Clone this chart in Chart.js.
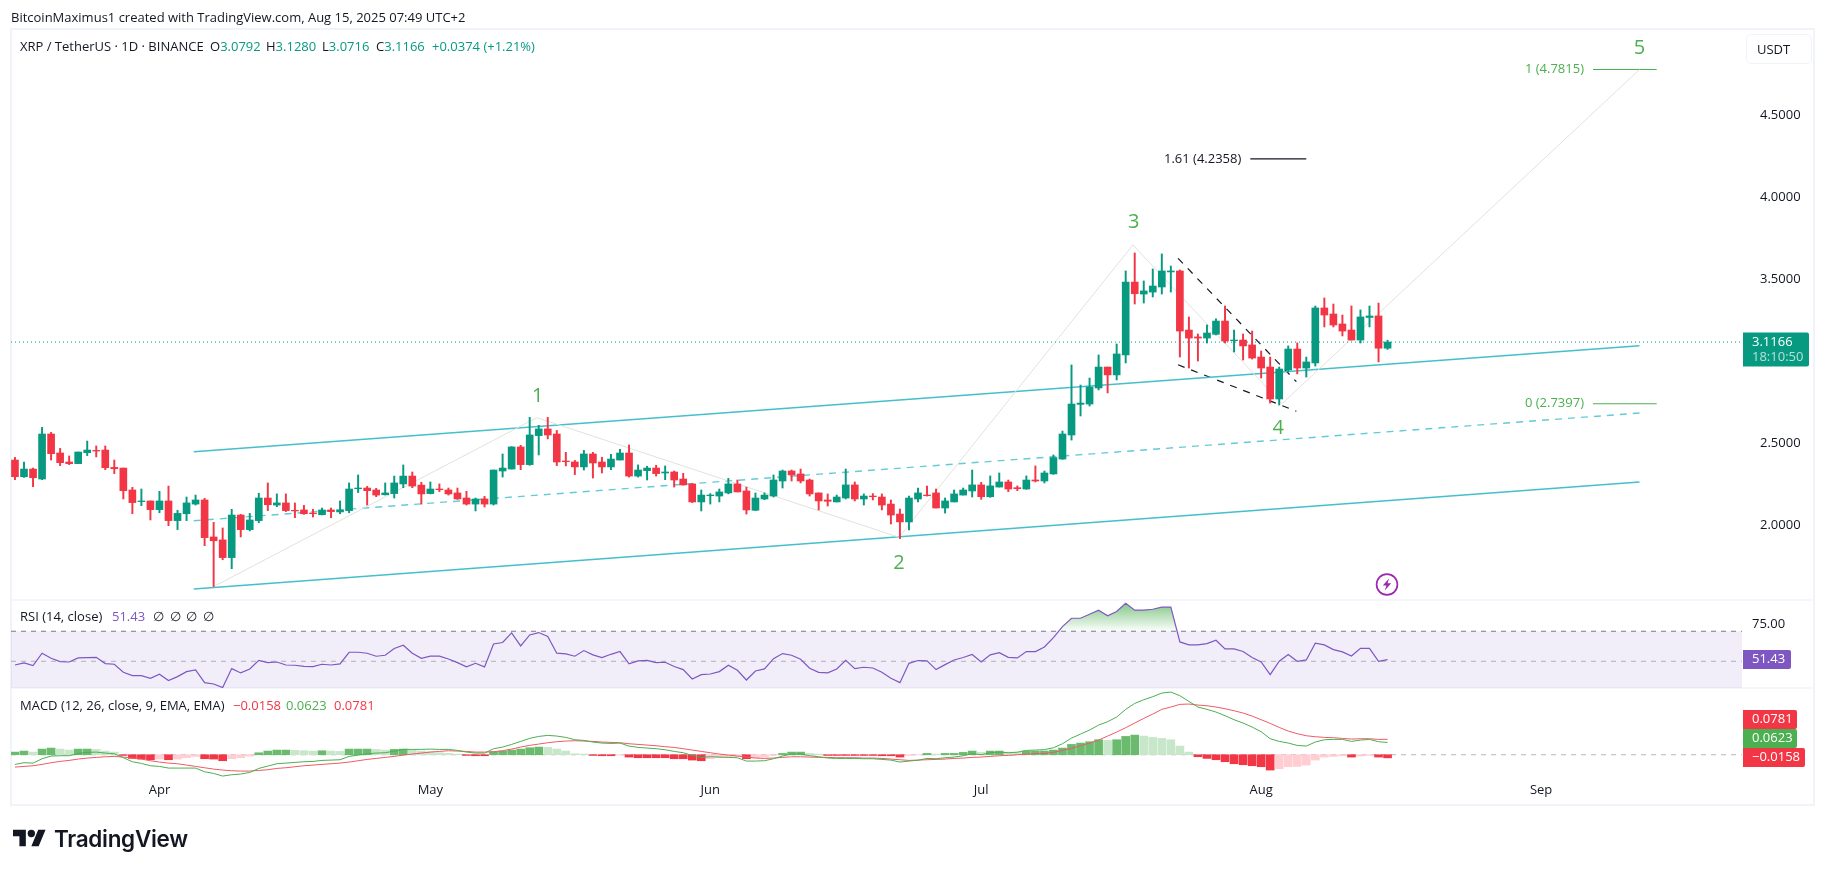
<!DOCTYPE html>
<html>
<head>
<meta charset="utf-8">
<title>XRP / TetherUS</title>
<script src="https://cdn.jsdelivr.net/npm/chart.js@4"></script>
<style>
  html, body { margin: 0; padding: 0; background: #fff; }
  body { width: 1825px; height: 872px; position: relative; overflow: hidden; font-family: "Open Sans", sans-serif; color: #131722; }
  canvas { position: absolute; left: 0; top: 0; }
  .txt { position: absolute; font-size: 13px; line-height: 18px; white-space: nowrap; }
  .up { color: #089981; }
  .rsi { color: #7e57c2; }
  .red { color: #f23645; }
  .grn { color: #4caf50; }
  #unit { position: absolute; left: 1746px; top: 34px; width: 64px; height: 28px; border: 1px solid #f0f3fa; border-radius: 5px; box-sizing: content-box; }
  #brand { position: absolute; left: 54px; top: 822px; font-family: Inter, sans-serif; font-weight: 600; font-size: 22.5px; line-height: 34px; letter-spacing: -0.3px; color: #131722; }
</style>
</head>
<body>
<canvas id="chart" width="1825" height="872"></canvas>

<div class="txt" style="left:11px;top:8px">BitcoinMaximus1 created with TradingView.com, Aug 15, 2025 07:49 UTC+2</div>

<div class="txt" style="left:20px;top:37px">XRP / TetherUS · 1D · BINANCE</div>
<div class="txt" style="left:210px;top:37px">O<span class="up">3.0792</span></div>
<div class="txt" style="left:266px;top:37px">H<span class="up">3.1280</span></div>
<div class="txt" style="left:322px;top:37px">L<span class="up">3.0716</span></div>
<div class="txt" style="left:376px;top:37px">C<span class="up">3.1166</span></div>
<div class="txt up" style="left:432px;top:37px">+0.0374 (+1.21%)</div>

<div class="txt" style="left:20px;top:607px">RSI (14, close)</div>
<div class="txt rsi" style="left:112px;top:607px">51.43</div>
<div class="txt" style="left:153px;top:607px">∅</div>
<div class="txt" style="left:170px;top:607px">∅</div>
<div class="txt" style="left:186px;top:607px">∅</div>
<div class="txt" style="left:203px;top:607px">∅</div>

<div class="txt" style="left:20px;top:696px">MACD (12, 26, close, 9, EMA, EMA)</div>
<div class="txt red" style="left:233px;top:696px">−0.0158</div>
<div class="txt grn" style="left:286px;top:696px">0.0623</div>
<div class="txt red" style="left:334px;top:696px">0.0781</div>

<div id="unit"></div>
<div class="txt" style="left:1757px;top:40px">USDT</div>

<!-- alert marker on the price pane -->
<svg style="position:absolute;left:1374px;top:572px" width="26" height="26" viewBox="0 0 26 26">
  <circle cx="13" cy="12.5" r="10.4" fill="#fff" stroke="#9c27b0" stroke-width="1.7"/>
  <path d="M15 6.5 L8.8 13.6 H12.4 L10.8 18.5 L17.2 11.3 H13.6 Z" fill="#9c27b0"/>
</svg>

<!-- brand mark -->
<svg style="position:absolute;left:13px;top:826px" width="33" height="26" viewBox="0 0 36 28">
  <path d="M14 22H7V11H0V4h14v18zM28 22h-8l7.5-18h8L28 22z" fill="#131722"/>
  <circle cx="20" cy="8" r="4" fill="#131722"/>
</svg>
<div id="brand">TradingView</div>

<script>
// Daily candles, index 0 = Mar 16, index 152 = Aug 15
const opens = [
  2.396,2.294,2.341,2.280,2.555,2.439,2.384,2.374,2.441,2.455,
  2.457,2.351,2.347,2.213,2.142,2.146,2.093,2.146,2.026,2.068,
  2.127,2.152,1.926,1.908,1.800,2.060,1.971,2.026,2.164,2.121,
  2.134,2.089,2.091,2.072,2.062,2.091,2.079,2.087,2.221,2.225,
  2.213,2.184,2.191,2.250,2.298,2.243,2.191,2.219,2.213,2.195,
  2.164,2.127,2.158,2.127,2.329,2.341,2.476,2.368,2.545,2.586,
  2.555,2.390,2.384,2.354,2.433,2.384,2.354,2.396,2.439,2.298,
  2.331,2.347,2.317,2.323,2.280,2.250,2.140,2.178,2.176,2.195,
  2.250,2.207,2.089,2.158,2.176,2.268,2.329,2.311,2.274,2.195,
  2.152,2.140,2.164,2.244,2.158,2.176,2.170,2.127,2.066,2.018,
  2.158,2.182,2.195,2.103,2.140,2.182,2.207,2.244,2.172,2.231,
  2.262,2.227,2.219,2.274,2.268,2.311,2.402,2.549,2.736,2.738,
  2.836,2.964,2.916,3.038,3.483,3.410,3.422,3.453,3.545,3.551,
  3.190,3.148,3.141,3.164,3.245,3.125,3.129,3.099,3.025,2.964,
  2.769,2.946,3.074,2.958,2.989,3.325,3.288,3.227,3.190,3.129,
  3.267,3.276,3.0792
];
const highs = [
  2.412,2.384,2.347,2.596,2.565,2.467,2.421,2.445,2.512,2.482,
  2.482,2.396,2.347,2.229,2.219,2.146,2.205,2.237,2.089,2.170,
  2.182,2.162,2.015,1.981,2.095,2.064,2.070,2.193,2.256,2.189,
  2.189,2.134,2.119,2.095,2.103,2.103,2.146,2.256,2.305,2.235,
  2.223,2.256,2.298,2.366,2.323,2.260,2.262,2.250,2.225,2.225,
  2.205,2.164,2.174,2.335,2.433,2.478,2.486,2.657,2.608,2.657,
  2.577,2.443,2.394,2.455,2.443,2.413,2.431,2.461,2.488,2.366,
  2.358,2.364,2.360,2.329,2.315,2.252,2.213,2.191,2.219,2.284,
  2.274,2.231,2.195,2.195,2.305,2.335,2.335,2.341,2.280,2.195,
  2.189,2.182,2.341,2.262,2.189,2.191,2.189,2.152,2.097,2.176,
  2.225,2.237,2.219,2.164,2.213,2.225,2.335,2.260,2.299,2.317,
  2.274,2.238,2.299,2.360,2.329,2.427,2.573,2.977,2.854,2.897,
  3.038,2.964,3.105,3.551,3.661,3.490,3.563,3.655,3.581,3.557,
  3.270,3.166,3.221,3.258,3.337,3.190,3.166,3.184,3.062,3.025,
  2.964,3.093,3.111,3.025,3.337,3.386,3.349,3.282,3.337,3.313,
  3.337,3.355,3.1280
];
const lows = [
  2.276,2.290,2.233,2.276,2.396,2.362,2.368,2.374,2.423,2.415,
  2.337,2.313,2.158,2.068,2.117,2.030,2.074,1.995,1.971,2.026,
  2.121,1.873,1.623,1.787,1.732,1.926,1.963,2.013,2.087,2.111,
  2.081,2.044,2.064,2.048,2.060,2.044,2.068,2.074,2.197,2.121,
  2.172,2.182,2.164,2.227,2.227,2.127,2.189,2.203,2.182,2.156,
  2.121,2.085,2.109,2.121,2.292,2.341,2.337,2.364,2.427,2.525,
  2.362,2.360,2.307,2.335,2.286,2.317,2.337,2.396,2.292,2.292,
  2.274,2.298,2.276,2.231,2.242,2.136,2.085,2.127,2.140,2.189,
  2.201,2.066,2.087,2.154,2.170,2.225,2.268,2.256,2.176,2.091,
  2.115,2.140,2.158,2.146,2.121,2.152,2.091,2.005,1.916,1.969,
  2.140,2.176,2.103,2.072,2.140,2.182,2.170,2.156,2.168,2.231,
  2.203,2.209,2.217,2.262,2.256,2.309,2.400,2.518,2.665,2.726,
  2.824,2.806,2.885,2.989,3.349,3.355,3.392,3.410,3.422,3.025,
  2.958,3.001,3.111,3.160,3.111,3.056,3.007,3.013,2.897,2.744,
  2.732,2.934,2.922,2.903,2.970,3.209,3.209,3.154,3.129,3.111,
  3.209,2.995,3.0716
];
const closes = [
  2.294,2.341,2.288,2.555,2.435,2.380,2.374,2.445,2.457,2.451,
  2.349,2.343,2.209,2.136,2.146,2.093,2.146,2.026,2.070,2.134,
  2.152,1.922,1.903,1.800,2.060,1.971,2.030,2.164,2.123,2.134,
  2.087,2.085,2.068,2.068,2.091,2.081,2.091,2.219,2.225,2.209,
  2.182,2.195,2.256,2.298,2.237,2.189,2.219,2.215,2.189,2.158,
  2.127,2.158,2.127,2.335,2.347,2.476,2.368,2.549,2.586,2.549,
  2.384,2.386,2.354,2.433,2.378,2.354,2.402,2.439,2.298,2.335,
  2.347,2.313,2.323,2.274,2.244,2.140,2.182,2.182,2.201,2.250,
  2.201,2.091,2.164,2.182,2.274,2.329,2.305,2.268,2.189,2.146,
  2.144,2.170,2.244,2.158,2.176,2.172,2.121,2.060,2.018,2.164,
  2.195,2.178,2.103,2.146,2.189,2.213,2.244,2.172,2.238,2.262,
  2.219,2.221,2.274,2.268,2.317,2.411,2.555,2.738,2.744,2.842,
  2.964,2.916,3.044,3.483,3.412,3.429,3.459,3.551,3.551,3.184,
  3.141,3.141,3.172,3.245,3.123,3.129,3.093,3.019,2.958,2.769,
  2.952,3.074,2.958,2.995,3.325,3.282,3.221,3.184,3.129,3.270,
  3.276,3.079,3.1166
];

const rsiValues = [
  46.9,48.6,46.4,56.7,52.5,49.7,49.4,52.8,53.1,53.3,
  48.1,47.5,40.8,38.1,38.1,35.8,39.2,33.9,37.2,41.4,
  42.8,32.2,31.1,28.1,43.9,40.3,43.6,50.8,48.9,49.4,
  46.9,46.7,45.8,45.6,47.5,46.9,47.8,57.5,57.5,56.7,
  54.2,55.0,60.6,63.3,56.7,52.5,54.2,54.2,51.9,48.9,
  45.3,48.3,45.3,64.4,65.6,73.6,62.8,71.9,73.9,70.6,
  56.7,56.1,54.2,58.9,55.3,53.1,55.8,58.1,47.8,50.3,
  50.8,48.9,49.2,45.6,43.1,35.3,38.9,39.4,41.4,46.7,
  42.5,34.4,41.9,43.6,52.2,56.4,55.0,51.7,44.2,40.8,
  40.3,43.6,50.8,43.9,45.0,44.4,40.8,35.8,32.2,48.3,
  50.6,50.3,43.1,47.2,51.1,53.1,55.6,49.4,55.3,57.2,
  53.3,52.8,58.1,58.1,61.9,69.7,78.9,85.8,85.8,89.2,
  92.5,87.8,91.4,98.3,92.5,92.5,93.3,95.0,95.0,66.1,
  63.6,63.6,64.7,67.5,60.3,60.3,58.1,53.1,49.4,38.9,
  50.0,55.6,50.0,51.1,65.0,63.6,59.7,57.8,54.4,60.8,
  60.8,50.0,51.43
];

const macdValues = [
  -.0491,-.0406,-.0423,-.0204,-.0068,-.0051,-.0051,.0067,.0118,.0135,
  .0084,.0050,-.0152,-.0355,-.0440,-.0559,-.0592,-.0677,-.0677,-.0677,
  -.0677,-.0863,-.0948,-.1082,-.1015,-.0981,-.0897,-.0694,-.0575,-.0457,
  -.0423,-.0389,-.0355,-.0339,-.0288,-.0271,-.0254,-.0085,-.0018,.0050,
  .0084,.0102,.0185,.0270,.0271,.0271,.0287,.0270,.0271,.0220,
  .0135,.0084,.0084,.0304,.0389,.0525,.0676,.0829,.0930,.0981,
  .0947,.0880,.0762,.0728,.0643,.0592,.0575,.0592,.0440,.0373,
  .0339,.0305,.0254,.0169,.0102,-.0033,-.0135,-.0101,-.0118,-.0135,
  -.0153,-.0321,-.0321,-.0304,-.0203,-.0067,.0033,.0033,-.0050,-.0101,
  -.0169,-.0186,-.0186,-.0186,-.0203,-.0203,-.0237,-.0271,-.0372,-.0322,
  -.0279,-.0186,-.0203,-.0152,-.0118,-.0051,.0051,.0000,.0101,.0135,
  .0101,.0130,.0220,.0237,.0258,.0355,.0558,.0845,.1049,.1251,
  .1505,.1675,.1912,.2301,.2604,.2790,.2943,.3129,.3181,.2994,
  .2707,.2420,.2301,.2166,.1980,.1777,.1608,.1405,.1169,.0813,
  .0677,.0593,.0474,.0440,.0644,.0762,.0778,.0778,.0677,.0744,
  .0778,.0660,.0623
];
const signalValues = [
  -.0626,-.0592,-.0558,-.0491,-.0406,-.0338,-.0288,-.0220,-.0169,-.0135,
  -.0102,-.0085,-.0118,-.0169,-.0220,-.0305,-.0372,-.0423,-.0457,-.0525,
  -.0592,-.0660,-.0728,-.0778,-.0812,-.0829,-.0829,-.0795,-.0761,-.0694,
  -.0660,-.0609,-.0558,-.0525,-.0491,-.0457,-.0423,-.0372,-.0305,-.0237,
  -.0186,-.0135,-.0085,-.0017,.0034,.0085,.0135,.0169,.0203,.0186,
  .0169,.0135,.0135,.0152,.0203,.0288,.0389,.0474,.0541,.0609,
  .0660,.0694,.0711,.0694,.0677,.0643,.0626,.0609,.0558,.0525,
  .0491,.0457,.0406,.0372,.0305,.0237,.0169,.0102,.0034,-.0017,
  -.0068,-.0118,-.0169,-.0186,-.0169,-.0135,-.0102,-.0102,-.0118,-.0135,
  -.0135,-.0152,-.0152,-.0152,-.0169,-.0169,-.0186,-.0220,-.0254,-.0288,
  -.0271,-.0254,-.0237,-.0220,-.0186,-.0169,-.0135,-.0118,-.0085,-.0051,
  -.0034,.0000,.0034,.0051,.0068,.0118,.0220,.0321,.0457,.0592,
  .0744,.0948,.1151,.1371,.1607,.1844,.2064,.2301,.2420,.2555,
  .2572,.2521,.2487,.2420,.2335,.2233,.2115,.1963,.1777,.1590,
  .1387,.1201,.1066,.0964,.0914,.0880,.0863,.0829,.0795,.0812,
  .0812,.0778,.0781
];
const histValues = [
  .0135,.0186,.0135,.0287,.0338,.0287,.0237,.0287,.0287,.0270,
  .0186,.0135,-.0034,-.0186,-.0220,-.0254,-.0220,-.0254,-.0220,-.0152,
  -.0085,-.0203,-.0220,-.0304,-.0203,-.0152,-.0068,.0101,.0186,.0237,
  .0237,.0220,.0203,.0186,.0203,.0186,.0169,.0287,.0287,.0287,
  .0270,.0237,.0270,.0287,.0237,.0186,.0152,.0101,.0068,.0034,
  -.0034,-.0051,-.0051,.0152,.0186,.0237,.0287,.0355,.0389,.0372,
  .0287,.0186,.0051,.0034,-.0034,-.0051,-.0051,-.0017,-.0118,-.0152,
  -.0152,-.0152,-.0152,-.0203,-.0203,-.0270,-.0304,-.0203,-.0152,-.0118,
  -.0085,-.0203,-.0152,-.0118,-.0034,.0068,.0135,.0135,.0068,.0034,
  -.0034,-.0034,-.0034,-.0034,-.0034,-.0034,-.0051,-.0051,-.0118,-.0034,
  -.0008,.0068,.0034,.0068,.0068,.0118,.0186,.0118,.0186,.0186,
  .0135,.0130,.0186,.0186,.0190,.0237,.0338,.0524,.0592,.0659,
  .0761,.0727,.0761,.0930,.0997,.0946,.0879,.0828,.0761,.0439,
  .0135,-.0101,-.0186,-.0254,-.0355,-.0456,-.0507,-.0558,-.0608,-.0777,
  -.0710,-.0608,-.0592,-.0524,-.0270,-.0118,-.0085,-.0051,-.0118,-.0068,
  -.0034,-.0118,-.0158
];

// Axis ticks
const priceTicks = [4.5, 4, 3.5, 2.5, 2];
const monthTicks = [16, 46, 77, 107, 138, 169];
const monthLabels = ['Apr', 'May', 'Jun', 'Jul', 'Aug', 'Sep'];

// Drawn tools, as [bar index, price]
const channelUpper = [[19.8, 2.447], [179.9, 3.094]];
const channelMiddle = [[19.8, 2.025], [179.9, 2.683]];
const channelLower = [[19.8, 1.608], [179.9, 2.262]];
const wavePath = [[22, 1.623], [57.8, 2.655], [97.9, 1.924], [123.8, 3.71], [140.3, 2.7397], [179.9, 4.7815]];
const wedgeUpper = [[128.8, 3.628], [141.9, 2.875]];
const wedgeLower = [[128.8, 2.978], [141.9, 2.694]];
const fibLevels = [
  { text: '1 (4.7815)', price: 4.7815, from: 174.75, to: 181.8, color: '#4caf50' },
  { text: '1.61 (4.2358)', price: 4.2358, from: 136.8, to: 143, color: '#131722' },
  { text: '0 (2.7397)', price: 2.7397, from: 174.75, to: 181.8, color: '#4caf50' }
];
const waveLabels = [
  { text: '1', x: 57.9, y: 2.787 },
  { text: '2', x: 97.9, y: 1.767 },
  { text: '3', x: 123.9, y: 3.85 },
  { text: '4', x: 139.9, y: 2.592 },
  { text: '5', x: 179.9, y: 4.913 }
];

// Visible ranges of the shared time axis and of the three panes
const xMin = -0.44;
const xMax = 191.25;
const priceMin = 1.541, priceMax = 5.029;
const rsiMin = 27.75, rsiMax = 101;
const macdMin = -0.118, macdMax = 0.3386;

const UP = '#089981';
const DOWN = '#f23645';
const LABEL_FONT = '13px "Open Sans", sans-serif';

const points = (list) => list.map(([x, y]) => ({ x, y }));
const series = (list) => list.map((y, x) => ({ x, y }));
const level = (y) => [{ x: xMin, y }, { x: xMax, y }];

function lineSet(data, yAxisID, color, width, dash, order) {
  return {
    type: 'line', data, yAxisID, xAxisID: 'x',
    borderColor: color, borderWidth: width, borderDash: dash || [],
    pointRadius: 0, tension: 0, fill: false, order: order === undefined ? 5 : order
  };
}

function candleColor(ctx) {
  const i = ctx.dataIndex;
  return closes[i] >= opens[i] ? UP : DOWN;
}

// Dark shade while the histogram moves away from zero, pale shade when it moves back
function histColor(ctx) {
  const i = ctx.dataIndex;
  const v = histValues[i];
  const prev = i > 0 ? histValues[i - 1] : 0;
  if (v >= 0) return v >= prev ? '#6abb6e' : '#c8e6c9';
  return v <= prev ? '#f23645' : '#ffcdd2';
}

const canvas = document.getElementById('chart');
const ctx = canvas.getContext('2d');

const overboughtFill = ctx.createLinearGradient(0, 606, 0, 632);
overboughtFill.addColorStop(0, 'rgba(76,175,80,0.62)');
overboughtFill.addColorStop(1, 'rgba(76,175,80,0)');

const datasets = [
  // price pane
  lineSet(level(3.1166), 'y', UP, 1, [1, 3]),
  lineSet(points(wavePath), 'y', '#e0e3da', 1),
  lineSet(points(channelUpper), 'y', '#45bfcb', 1.5),
  lineSet(points(channelMiddle), 'y', '#62cbd6', 1.4, [7, 6]),
  lineSet(points(channelLower), 'y', '#45bfcb', 1.5),
  lineSet(points(wedgeUpper), 'y', '#131722', 1.2, [7, 7]),
  lineSet(points(wedgeLower), 'y', '#131722', 1.2, [7, 7])
];

fibLevels.forEach((f) => {
  datasets.push(lineSet([{ x: f.from, y: f.price }, { x: f.to, y: f.price }], 'y', f.color, 1.2));
});

datasets.push({
  type: 'bar', data: lows.map((l, i) => ({ x: i, y: [l, highs[i]] })), yAxisID: 'y', xAxisID: 'x',
  backgroundColor: candleColor, barThickness: 1.3, grouped: false, order: 2
});
datasets.push({
  type: 'bar', data: opens.map((o, i) => ({ x: i, y: [o, closes[i]] })), yAxisID: 'y', xAxisID: 'x',
  backgroundColor: candleColor, barThickness: 7, grouped: false, order: 1
});

// RSI pane
datasets.push({
  ...lineSet(level(75), 'yRsi', 'rgba(0,0,0,0)', 0, null, 9),
  fill: { target: { value: rsiMin } }, backgroundColor: 'rgba(126,87,194,0.1)'
});
datasets.push(lineSet(level(75), 'yRsi', '#787b86', 1, [5, 5], 8));
datasets.push(lineSet(level(50), 'yRsi', 'rgba(120,123,134,0.55)', 1, [5, 5], 8));
datasets.push({
  ...lineSet(series(rsiValues), 'yRsi', '#7e57c2', 1.2, null, 3),
  fill: { target: { value: 75 }, above: overboughtFill, below: 'rgba(0,0,0,0)' }
});

// MACD pane
datasets.push(lineSet(level(0), 'yMacd', 'rgba(120,123,134,0.55)', 1, [5, 5], 8));
datasets.push({
  type: 'bar', data: series(histValues), yAxisID: 'yMacd', xAxisID: 'x',
  backgroundColor: histColor, barThickness: 8, grouped: false, order: 4
});
datasets.push(lineSet(series(signalValues), 'yMacd', '#ef5a65', 1, null, 3));
datasets.push(lineSet(series(macdValues), 'yMacd', '#4caf50', 1, null, 2));

// Text anchored to the price scale, and the tags on the right axis
const overlay = {
  id: 'overlay',
  beforeDraw(chart) {
    const c = chart.ctx;
    const { x, y, yRsi } = chart.scales;
    const left = chart.chartArea.left;
    c.save();
    c.strokeStyle = '#f0f3fa';
    c.lineWidth = 2;
    c.strokeRect(left, chart.chartArea.top, y.right - left, x.bottom - chart.chartArea.top);
    c.lineWidth = 1.5;
    [y.bottom, yRsi.bottom].forEach((py) => {
      c.beginPath();
      c.moveTo(left, py);
      c.lineTo(y.right, py);
      c.stroke();
    });
    c.restore();
  },
  afterDraw(chart) {
    const c = chart.ctx;
    const { x, y, yRsi } = chart.scales;
    c.save();
    c.textBaseline = 'middle';

    c.font = '20px "Open Sans", sans-serif';
    c.textAlign = 'center';
    c.fillStyle = '#4caf50';
    waveLabels.forEach((w) => c.fillText(w.text, x.getPixelForValue(w.x), y.getPixelForValue(w.y)));

    c.font = LABEL_FONT;
    c.textAlign = 'right';
    fibLevels.forEach((f) => {
      c.fillStyle = f.color;
      c.fillText(f.text, x.getPixelForValue(f.from) - 9, y.getPixelForValue(f.price));
    });

    c.textAlign = 'left';
    c.fillStyle = '#131722';
    c.fillText('75.00', 1752, yRsi.getPixelForValue(75) - 7);

    const tag = (top, h, w, color) => {
      c.fillStyle = color;
      c.beginPath();
      c.roundRect(1743, top, w, h, [0, 2, 2, 0]);
      c.fill();
    };

    const lastClose = closes[closes.length - 1];
    const closeY = y.getPixelForValue(lastClose);
    tag(closeY - 9.5, 34, 66, UP);
    c.fillStyle = '#fff';
    c.fillText(lastClose.toFixed(4), 1752, closeY);
    c.fillStyle = 'rgba(255,255,255,0.7)';
    c.fillText('18:10:50', 1752, closeY + 15);

    const lastRsi = rsiValues[rsiValues.length - 1];
    const rsiY = yRsi.getPixelForValue(lastRsi);
    tag(rsiY - 9.5, 19, 48, '#7e57c2');
    c.fillStyle = '#fff';
    c.fillText(lastRsi.toFixed(2), 1752, rsiY);

    // The MACD tags are pushed apart so they do not overlap
    tag(710, 19, 54, DOWN);
    tag(729, 19, 54, '#4caf50');
    tag(748, 19, 62, DOWN);
    c.fillStyle = '#fff';
    c.fillText(signalValues[signalValues.length - 1].toFixed(4), 1752, 719.5);
    c.fillText(macdValues[macdValues.length - 1].toFixed(4), 1752, 738.5);
    c.fillText(histValues[histValues.length - 1].toFixed(4).replace('-', '−'), 1752, 757.5);
    c.restore();
  }
};

const fixWidth = (scale) => { scale.width = 72; };
const hiddenAxis = {
  position: 'right', stack: 'panes', grid: { display: false }, border: { display: false },
  ticks: { display: false }, afterFit: fixWidth
};

new Chart(ctx, {
  type: 'bar',
  data: { datasets },
  plugins: [overlay],
  options: {
    responsive: false,
    animation: false,
    events: [],
    layout: { padding: { left: 11, top: 29, right: 11, bottom: 67 } },
    plugins: { legend: { display: false }, tooltip: { enabled: false } },
    scales: {
      x: {
        type: 'linear', min: xMin, max: xMax, offset: false,
        grid: { display: false, drawTicks: false }, border: { display: false },
        afterBuildTicks(axis) { axis.ticks = monthTicks.map((value) => ({ value })); },
        afterFit(scale) { scale.height = 27; },
        ticks: {
          autoSkip: false, maxRotation: 0, includeBounds: false, padding: 4,
          color: '#131722', font: { family: '"Open Sans", sans-serif', size: 13 },
          callback: (v) => monthLabels[monthTicks.indexOf(v)]
        }
      },
      y: {
        ...hiddenAxis, min: priceMin, max: priceMax, stackWeight: 571, weight: 1,
        afterBuildTicks(axis) { axis.ticks = priceTicks.map((value) => ({ value })); },
        ticks: {
          display: true, autoSkip: false, padding: 10, color: '#131722',
          font: { family: '"Open Sans", sans-serif', size: 13 },
          callback: (v) => v.toFixed(4)
        }
      },
      yRsi: { ...hiddenAxis, min: rsiMin, max: rsiMax, stackWeight: 88, weight: 2 },
      yMacd: { ...hiddenAxis, min: macdMin, max: macdMax, stackWeight: 90, weight: 3 }
    }
  }
});
</script>
</body>
</html>
